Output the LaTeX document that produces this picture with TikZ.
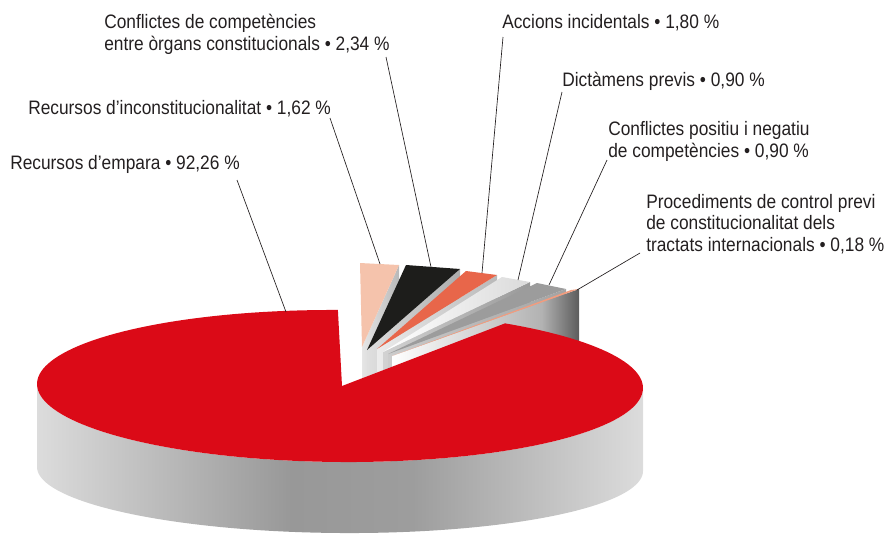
\documentclass[tikz,border=0pt]{standalone}
\usepackage{fontspec}
\setmainfont{Liberation Sans}[FakeStretch=0.89]
\usepackage{tikz}
\usetikzlibrary{calc}

\definecolor{pieRed}{RGB}{219,10,23}
\definecolor{piePink}{RGB}{245,195,172}
\definecolor{pieBlack}{RGB}{29,29,27}
\definecolor{pieOrange}{RGB}{232,102,74}
\definecolor{pieLight}{RGB}{218,218,218}
\definecolor{pieMid}{RGB}{156,156,156}
\definecolor{pieSalmon}{RGB}{242,156,126}
\definecolor{inkGray}{RGB}{35,31,32}
\definecolor{rimLight}{RGB}{220,220,220}
\definecolor{rimDark}{RGB}{152,152,152}
\definecolor{wallDark}{RGB}{92,92,92}

\pgfdeclarehorizontalshading{rimShade}{100bp}{color(0bp)=(rimLight); color(25bp)=(rimLight);
  color(46bp)=(rimDark); color(56bp)=(rimDark!95!white); color(75bp)=(rimLight); color(100bp)=(rimLight)}
\pgfdeclarehorizontalshading{wallShade}{100bp}{color(0bp)=(white); color(25bp)=(white);
  color(45bp)=(gray!30); color(65bp)=(gray!60); color(75bp)=(wallDark); color(100bp)=(wallDark)}

\tikzset{
  txt/.style={anchor=base west, inner sep=0pt, align=left, text=inkGray,
    font=\fontsize{14.6}{15.8}\selectfont},
  leader/.style={draw=inkGray, line width=0.5pt},
}

\begin{document}
\begin{tikzpicture}[x=0.75pt, y=-0.75pt,
    declare function={rimx(\t)=340+303*cos(\t);
                      rimy(\t)=386-76*sin(\t)+2*cos(\t);
                      basey(\t)=469-64*sin(\t)+2*cos(\t);}]
  \useasboundingbox (0,0) rectangle (888,536);

  % small slices, back to front
  \coordinate (aPink) at (362,347);
  \coordinate (lPink) at (360,263);
  \coordinate (rPink) at (399,265);
  \shade[left color=gray!20, right color=gray!55] (aPink) -- (rPink) -- ($(rPink)+(0,60)$) -- ($(aPink)+(0,60)$) -- cycle;
  \fill[piePink] (aPink) -- (lPink) -- (rPink) -- cycle;

  \coordinate (aBlack) at (367,350);
  \coordinate (lBlack) at (406,265);
  \coordinate (rBlack) at (460,269);
  \shade[left color=gray!25, right color=gray!65] (aBlack) -- (rBlack) -- ($(rBlack)+(0,60)$) -- ($(aBlack)+(0,60)$) -- cycle;
  \fill[pieBlack] (aBlack) -- (lBlack) -- (rBlack) -- cycle;

  \coordinate (aOrange) at (377,349);
  \coordinate (lOrange) at (466,271);
  \coordinate (rOrange) at (497,275);
  \shade[left color=gray!15, right color=gray!55] (aOrange) -- (rOrange) -- ($(rOrange)+(0,60)$) -- ($(aOrange)+(0,60)$) -- cycle;
  \fill[pieOrange] (aOrange) -- (lOrange) -- (rOrange) -- cycle;

  \coordinate (aLight) at (383,352);
  \coordinate (lLight) at (502,277);
  \coordinate (rLight) at (530,282);
  \shade[left color=gray!35, right color=gray!80] (aLight) -- (rLight) -- ($(rLight)+(0,60)$) -- ($(aLight)+(0,60)$) -- cycle;
  \shade[left color=white, right color=pieLight] (aLight) -- (lLight) -- (rLight) -- cycle;

  \coordinate (aMid) at (388,354);
  \coordinate (lMid) at (537,283);
  \coordinate (rMid) at (566,289);
  \shade[left color=gray!40, right color=gray!72] (aMid) -- (rMid) -- ($(rMid)+(0,60)$) -- ($(aMid)+(0,60)$) -- cycle;
  \fill[pieMid] (aMid) -- (lMid) -- (rMid) -- cycle;

  \coordinate (aSalmon) at (392,356);
  \coordinate (lSalmon) at (571,290);
  \coordinate (rSalmon) at (579,289);
  \shade[shading=wallShade] (aSalmon) -- (rSalmon) -- ($(rSalmon)+(0,60)$) -- ($(aSalmon)+(0,60)$) -- cycle;
  \fill[pieSalmon] (aSalmon) -- (lSalmon) -- (rSalmon) -- cycle;

  % big slice: rim, then top
  \shade[shading=rimShade]
    plot[domain=180:360, samples=90, variable=\t] ({rimx(\t)},{rimy(\t)})
    -- plot[domain=360:180, samples=90, variable=\t] ({rimx(\t)},{basey(\t)}) -- cycle;
  \coordinate (cRed) at (342,386);
  \fill[pieRed] (cRed) -- plot[domain=90.4:417, samples=160, variable=\t] ({rimx(\t)},{rimy(\t)}) -- cycle;

  % labels
  \node (lEmpara) [txt] at (10,169) {Recursos d’empara • 92,26 \%};
  \node (lInconst) [txt] at (28,114) {Recursos d’inconstitucionalitat • 1,62 \%};
  \node (lConfOrg) [txt] at (104,50) {Conflictes de competències\\entre òrgans constitucionals • 2,34 \%};
  \node (lAccions) [txt] at (502,28) {Accions incidentals • 1,80 \%};
  \node (lDictamens) [txt] at (562,86) {Dictàmens previs • 0,90 \%};
  \node (lConfPos) [txt] at (608,157) {Conflictes positiu i negatiu\\de competències • 0,90 \%};
  \node (lTractats) [txt] at (646,251) {Procediments de control previ\\de constitucionalitat dels\\tractats internacionals • 0,18 \%};

  % leader lines
  \coordinate (tEmpara) at (237,180);     \coordinate (pEmpara) at (286,312);
  \coordinate (tInconst) at (330,118);    \coordinate (pInconst) at (380,264);
  \coordinate (tConfOrg) at (386,57);     \coordinate (pConfOrg) at (431,267);
  \coordinate (tAccions) at (503,37);     \coordinate (pAccions) at (482,273);
  \coordinate (tDictamens) at (562,92);   \coordinate (pDictamens) at (518,280);
  \coordinate (tConfPos) at (607,160);    \coordinate (pConfPos) at (549,285);
  \coordinate (tTractats) at (640,253);   \coordinate (pTractats) at (577,290);
  \draw[leader] (tEmpara) -- (pEmpara);
  \draw[leader] (tInconst) -- (pInconst);
  \draw[leader] (tConfOrg) -- (pConfOrg);
  \draw[leader] (tAccions) -- (pAccions);
  \draw[leader] (tDictamens) -- (pDictamens);
  \draw[leader] (tConfPos) -- (pConfPos);
  \draw[leader] (tTractats) -- (pTractats);
\end{tikzpicture}
\end{document}
